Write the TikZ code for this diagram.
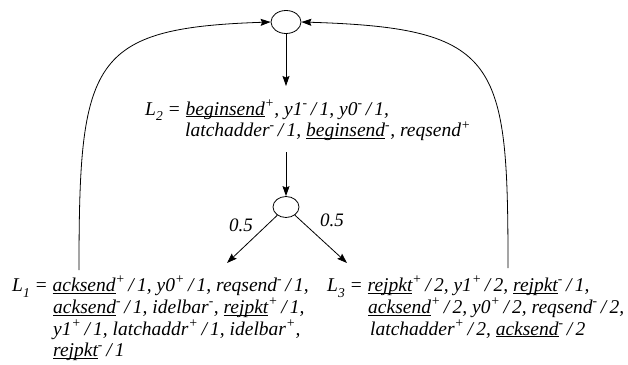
\documentclass[tikz,border=0pt]{standalone}
\usepackage{fontspec}
\setmainfont{Liberation Serif}
\usetikzlibrary{arrows.meta,shapes.geometric}
\newcommand\lsub[1]{\raisebox{-0.3em}{\fontsize{13.5}{13.5}\selectfont #1}}
\newcommand\ulw[1]{\underline{\smash{#1}}}
\newcommand\spp{\textsuperscript{+}}
\newcommand\smm{\textsuperscript{-}}
\newcommand\fsl{\,/\,}
\tikzset{
  arr/.style={-{Stealth[length=10pt,width=7pt,inset=1.5pt]},line width=0.8pt},
  state/.style={draw,ellipse,line width=0.8pt,inner sep=0pt},
  txt/.style={anchor=base west,inner sep=0pt,text height=13pt,text depth=4pt,font=\fontsize{19.5}{22}\selectfont\itshape},
  prob/.style={inner sep=0pt,font=\fontsize{19}{22}\selectfont\itshape}
}
\begin{document}
\begin{tikzpicture}[x=1pt,y=-1pt]
\useasboundingbox (0,0) rectangle (628,364);
\node[state,minimum width=30pt,minimum height=23pt] (top) at (286,22) {};
\node[state,minimum width=26pt,minimum height=21pt] (mid) at (286,207) {};

\node[txt] (l2a) at (145,115) {L\lsub{2} = \ulw{beginsend}\spp, y1\smm\fsl1, y0\smm\fsl1,};
\node[txt] (l2b) at (185,136.8) {latchadder\smm\fsl1, \ulw{beginsend}\smm, reqsend\spp};

\node[txt] (l1a) at (12,291.5) {L\lsub{1} = \ulw{acksend}\spp\fsl1, y0\spp\fsl1, reqsend\smm\fsl1,};
\node[txt] (l1b) at (53,313.3) {\ulw{acksend}\smm\fsl1, idelbar\smm, \ulw{rejpkt}\spp\fsl1,};
\node[txt] (l1c) at (53,335.1) {y1\spp\fsl1, latchaddr\spp\fsl1, idelbar\spp,};
\node[txt] (l1d) at (53,356.9) {\ulw{rejpkt}\smm\fsl1};

\node[txt] (l3a) at (327,291.5) {L\lsub{3} = \ulw{rejpkt}\spp\fsl2, y1\spp\fsl2, \ulw{rejpkt}\smm\fsl1,};
\node[txt] (l3b) at (368,313.3) {\ulw{acksend}\spp\fsl2, y0\spp\fsl2, reqsend\smm\fsl2,};
\node[txt] (l3c) at (370,335.1) {latchadder\spp\fsl2, \ulw{acksend}\smm\fsl2};

\node[prob] (p1) at (241,225) {0.5};
\node[prob] (p2) at (332,220) {0.5};

\coordinate (l2in) at (286,86);
\coordinate (l2out) at (286,152);
\coordinate (l1in) at (227,263);
\coordinate (l3in) at (347,263);
\coordinate (l1out) at (79,270);
\coordinate (l3out) at (508,268);

\draw[arr] (top) -- (l2in);
\draw[arr] (l2out) -- (mid);
\draw[arr] (mid) -- (l1in);
\draw[arr] (mid) -- (l3in);
\draw[arr] (l1out) .. controls (79,60) and (90,28) .. (top.west);
\draw[arr] (l3out) .. controls (508,60) and (500,28) .. (top.east);
\end{tikzpicture}
\end{document}
